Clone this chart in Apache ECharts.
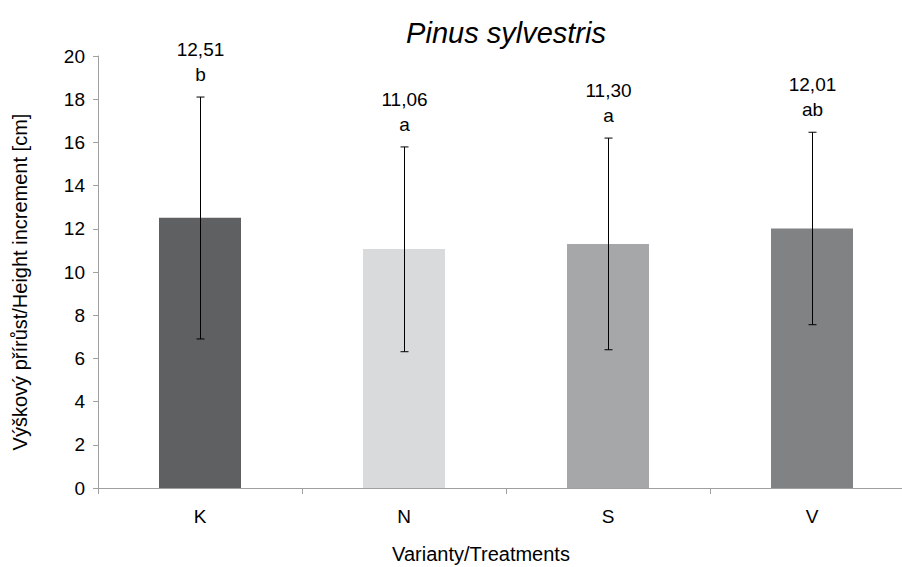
<!DOCTYPE html>
<html>
<head>
<meta charset="utf-8">
<script src="https://cdn.jsdelivr.net/npm/echarts@6/dist/echarts.min.js"></script>
<style>html,body{margin:0;padding:0;background:#fff;overflow:hidden}#c{width:902px;height:567px}</style>
</head>
<body>
<div id="c"></div>
<script>
var categories = ['K', 'N', 'S', 'V'];
var means = [12.51, 11.06, 11.30, 12.01];
var errLow = [6.9, 6.31, 6.40, 7.56];
var errHigh = [18.1, 15.79, 16.2, 16.47];
var meanLabels = ['12,51', '11,06', '11,30', '12,01'];
var groupLetters = ['b', 'a', 'a', 'ab'];
var barColors = ['#5f6062', '#d9dadc', '#a6a7a9', '#818284'];

var FONT = '"Liberation Sans", Arial, sans-serif';
var chart = echarts.init(document.getElementById('c'), null, {renderer: 'svg'});

var errData = categories.map(function (c, i) { return [i, errLow[i], errHigh[i]]; });

chart.setOption({
  animation: false,
  backgroundColor: '#ffffff',
  title: {
    text: 'Pinus sylvestris',
    left: 501, top: 13, textAlign: 'center',
    textStyle: {fontFamily: FONT, fontStyle: 'italic', fontWeight: 'normal', fontSize: 29, color: '#000'}
  },
  grid: {left: 98, top: 56, width: 816, bottom: 79, containLabel: false, outerBoundsMode: 'none'},
  xAxis: {
    type: 'category',
    data: categories,
    name: 'Varianty/Treatments',
    nameLocation: 'middle',
    nameGap: 56,
    nameTextStyle: {fontFamily: FONT, fontSize: 20, color: '#000', padding: [0, 50, 0, 0]},
    axisLine: {lineStyle: {color: '#a0a0a0', width: 1}},
    axisTick: {show: true, length: 6, lineStyle: {color: '#a0a0a0'}},
    axisLabel: {fontFamily: FONT, fontSize: 19, color: '#000', margin: 19}
  },
  yAxis: {
    type: 'value',
    min: 0, max: 20, interval: 2,
    name: 'Výškový přírůst/Height increment [cm]',
    nameLocation: 'middle',
    nameGap: 68,
    nameRotate: 90,
    nameTextStyle: {fontFamily: FONT, fontSize: 20, color: '#000', padding: [0, 20, 0, 0]},
    axisLine: {show: true, lineStyle: {color: '#a0a0a0', width: 1}},
    axisTick: {show: true, length: 5, lineStyle: {color: '#a0a0a0'}},
    splitLine: {show: false},
    axisLabel: {fontFamily: FONT, fontSize: 19, color: '#000', margin: 13}
  },
  series: [
    {
      type: 'bar',
      barWidth: 82,
      data: means.map(function (v, i) { return {value: v, itemStyle: {color: barColors[i]}}; }),
      z: 2
    },
    {
      type: 'custom',
      data: errData,
      z: 5,
      renderItem: function (params, api) {
        var i = api.value(0);
        var lo = api.coord([i, api.value(1)]);
        var hi = api.coord([i, api.value(2)]);
        var x = Math.round(hi[0]) + 0.5;
        var cap = 4;
        var ls = {stroke: '#000', lineWidth: 1};
        return {
          type: 'group',
          children: [
            {type: 'line', shape: {x1: x, y1: hi[1], x2: x, y2: lo[1]}, style: ls},
            {type: 'line', shape: {x1: x - cap, y1: hi[1], x2: x + cap, y2: hi[1]}, style: ls},
            {type: 'line', shape: {x1: x - cap, y1: lo[1], x2: x + cap, y2: lo[1]}, style: ls},
            {type: 'text', style: {
              text: meanLabels[i] + '\n' + groupLetters[i],
              x: x, y: hi[1] - 10,
              align: 'center', verticalAlign: 'bottom',
              lineHeight: 25,
              font: '19px ' + FONT, fill: '#000'
            }}
          ]
        };
      }
    }
  ]
});
</script>
</body>
</html>
